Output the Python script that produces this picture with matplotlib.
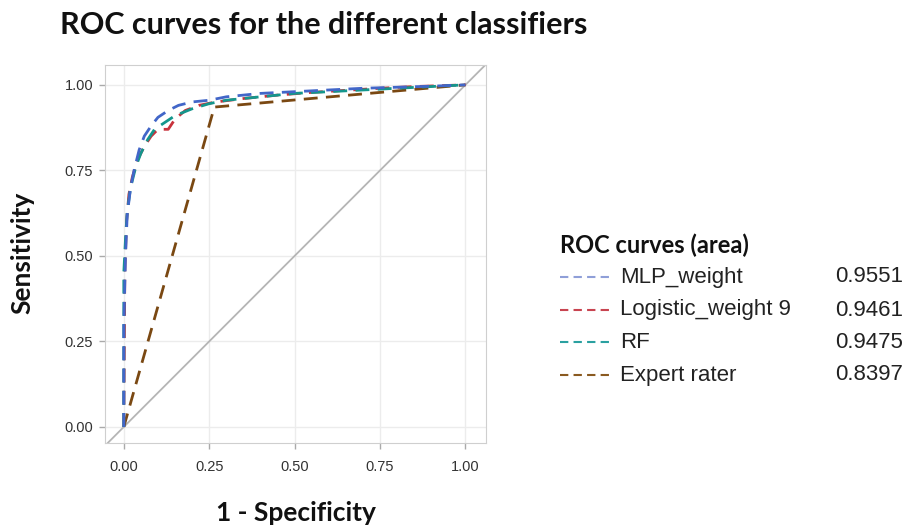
import matplotlib
matplotlib.use("Agg")
import matplotlib.pyplot as plt
from matplotlib.lines import Line2D

# ---- data ----
mlp_x = [0, 0, 0.005, 0.01, 0.02, 0.03, 0.045, 0.06, 0.08, 0.10, 0.13, 0.16, 0.20, 0.25, 0.30, 0.40, 0.50, 0.60, 0.70, 0.80, 0.90, 1.0]
mlp_y = [0, 0.30, 0.50, 0.62, 0.70, 0.75, 0.81, 0.85, 0.88, 0.905, 0.925, 0.94, 0.95, 0.955, 0.965, 0.975, 0.98, 0.985, 0.99, 0.993, 0.996, 1.0]

log_x = [0, 0.003, 0.008, 0.015, 0.025, 0.04, 0.06, 0.08, 0.10, 0.13, 0.15, 0.18, 0.22, 0.27, 0.35, 0.45, 0.55, 0.65, 0.75, 0.85, 1.0]
log_y = [0, 0.45, 0.60, 0.68, 0.73, 0.78, 0.82, 0.85, 0.87, 0.87, 0.90, 0.925, 0.94, 0.95, 0.96, 0.97, 0.978, 0.984, 0.99, 0.995, 1.0]

rf_x = [0, 0.0, 0.005, 0.01, 0.02, 0.035, 0.05, 0.07, 0.09, 0.12, 0.15, 0.20, 0.25, 0.30, 0.40, 0.50, 0.60, 0.70, 0.80, 0.90, 1.0]
rf_y = [0, 0.45, 0.55, 0.63, 0.70, 0.76, 0.80, 0.84, 0.87, 0.89, 0.91, 0.93, 0.945, 0.955, 0.965, 0.975, 0.98, 0.985, 0.99, 0.995, 1.0]

exp_x = [0, 0.265, 1.0]
exp_y = [0, 0.935, 1.0]

names = ["MLP_weight", "Logistic_weight 9", "RF", "Expert rater"]
areas = ["0.9551", "0.9461", "0.9475", "0.8397"]
colors = ["#4266c8", "#c8323c", "#14968c", "#7a4812"]
legend_colors = ["#8f9fd8", "#c84450", "#2aa0a0", "#8a5a20"]
ticks = [0.0, 0.25, 0.5, 0.75, 1.0]
tick_labels = ["0.00", "0.25", "0.50", "0.75", "1.00"]

fig = plt.figure(figsize=(9.12, 5.26), dpi=100)
ax = fig.add_axes([105 / 912, 1 - 443 / 526, 381 / 912, 378 / 526])

ax.plot([-0.06, 1.06], [-0.06, 1.06], color="#b5b5b5", lw=1.3, zorder=1)
ax.plot(exp_x, exp_y, color=colors[3], lw=2.0, ls=(0, (5, 3)), zorder=2)
ax.plot(log_x, log_y, color=colors[1], lw=2.0, ls=(0, (5, 3)), zorder=3)
ax.plot(rf_x, rf_y, color=colors[2], lw=2.0, ls=(0, (5, 3)), zorder=4)
ax.plot(mlp_x, mlp_y, color=colors[0], lw=2.0, ls=(0, (5, 3)), zorder=5)

ax.set_xlim(-0.055, 1.06)
ax.set_ylim(-0.047, 1.058)
ax.set_xticks(ticks)
ax.set_xticklabels(tick_labels)
ax.set_yticks(ticks)
ax.set_yticklabels(tick_labels)
ax.grid(True, color="#ececec", lw=1.0)
ax.set_axisbelow(True)
for s in ax.spines.values():
    s.set_color("#cfcfcf")
ax.tick_params(colors="#aaaaaa", labelcolor="#333333", length=4.5, width=1,
               labelsize=10.5)
ax.tick_params(axis="x", pad=8)
ax.tick_params(axis="y", pad=4)
for lab in ax.get_xticklabels() + ax.get_yticklabels():
    lab.set_family("Liberation Sans")

fig.text(0.066, 1 - 25 / 526, "ROC curves for the different classifiers", family="Lato",
         weight="bold", fontsize=22, ha="left", va="center", color="#111111")
fig.text(0.324, 1 - 513 / 526, "1 - Specificity", family="Lato", weight="bold",
         fontsize=19, ha="center", va="center", color="#111111")
fig.text(22 / 912, 1 - 253 / 526, "Sensitivity", family="Lato", weight="bold",
         fontsize=19, ha="center", va="center", rotation=90, color="#111111")

# legend
fig.text(560 / 912, 1 - 245 / 526, "ROC curves (area)", family="Lato", weight="bold",
         fontsize=17, ha="left", va="center", color="#111111")
rows = [277, 310, 342, 375]
for name, area, c, r in zip(names, areas, legend_colors, rows):
    yy = 1 - r / 526
    fig.add_artist(Line2D([560 / 912, 610 / 912], [yy, yy], color=c, lw=1.5,
                          ls=(0, (4, 2.5)), transform=fig.transFigure))
    fig.text(620 / 912, yy, name, family="Liberation Sans", fontsize=16,
             ha="left", va="center", color="#222222")
    fig.text(835 / 912, yy, area, family="Liberation Sans", fontsize=16,
             ha="left", va="center", color="#222222")

fig.savefig("out.png", dpi=100)
